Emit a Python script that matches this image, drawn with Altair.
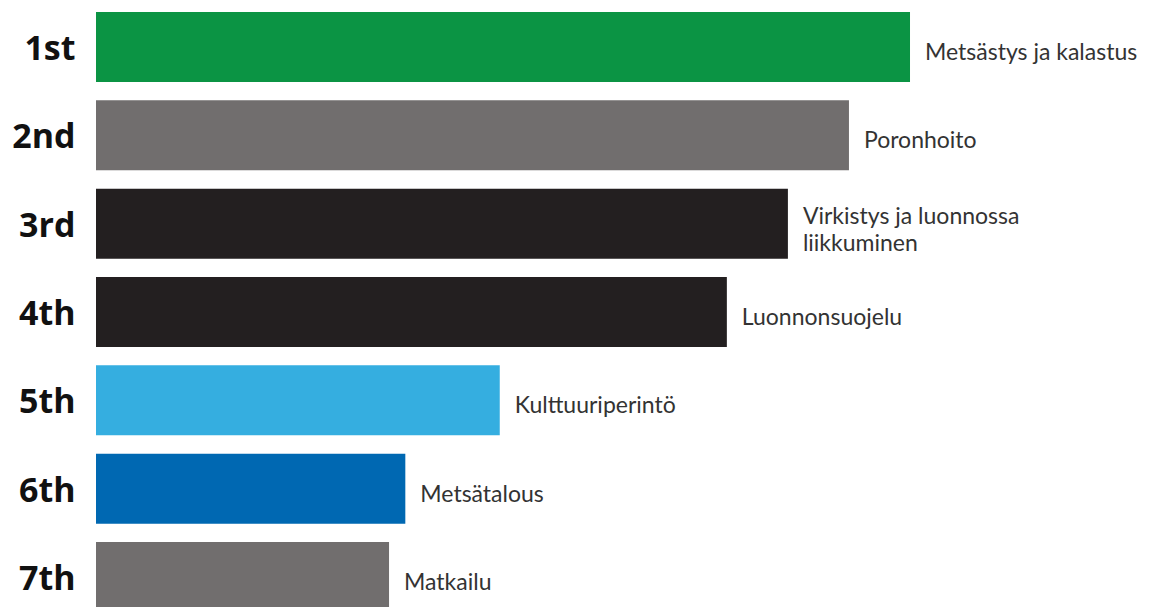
import altair as alt
import pandas as pd

ranks = ["1st", "2nd", "3rd", "4th", "5th", "6th", "7th"]
names = ["Metsästys ja kalastus", "Poronhoito", "Virkistys ja luonnossa\nliikkuminen",
         "Luonnonsuojelu", "Kulttuuriperintö", "Metsätalous", "Matkailu"]
values = [100.0, 92.5, 85.0, 77.5, 49.6, 38.0, 36.0]
colors = ["#0b9444", "#716e6e", "#231f20", "#231f20", "#35aee0", "#0068b2", "#716e6e"]

df = pd.DataFrame({"rank": ranks, "name": names, "value": values, "color": colors})

y = alt.Y("rank:N", sort=ranks,
          scale=alt.Scale(paddingInner=0.2075, paddingOuter=0),
          axis=alt.Axis(title=None, domain=False, ticks=False, labelPadding=21,
                        labelFontSize=34, labelFontWeight="bold", labelFont="Open Sans",
                        labelColor="#111111", grid=False, labelOffset=3))
x = alt.X("value:Q", scale=alt.Scale(domain=[0, 128.5], nice=False, zero=True), axis=None)

bars = alt.Chart(df).mark_bar(cornerRadius=0).encode(
    x=x, y=y, color=alt.Color("color:N", scale=None)
)

text_style = dict(align="left", baseline="middle", dx=15, fontSize=23, fontWeight=400,
                  font="Lato", color="#333333", lineBreak="\n", lineHeight=27)

labels_single = alt.Chart(df).transform_filter(
    "indexof(datum.name, '\\n') < 0"
).mark_text(dy=6, **text_style).encode(x=x, y=y, text="name:N")

labels_multi = alt.Chart(df).transform_filter(
    "indexof(datum.name, '\\n') >= 0"
).mark_text(dy=-7, **text_style).encode(x=x, y=y, text="name:N")

chart = (bars + labels_single + labels_multi).properties(
    width=1046, height=600,
    autosize=alt.AutoSizeParams(type="none"),
    padding={"left": 88, "top": 4, "right": 0, "bottom": 0},
).configure(background="white").configure_view(stroke=None)

chart.save("out.html", embed_options={"renderer": "svg", "actions": False})
